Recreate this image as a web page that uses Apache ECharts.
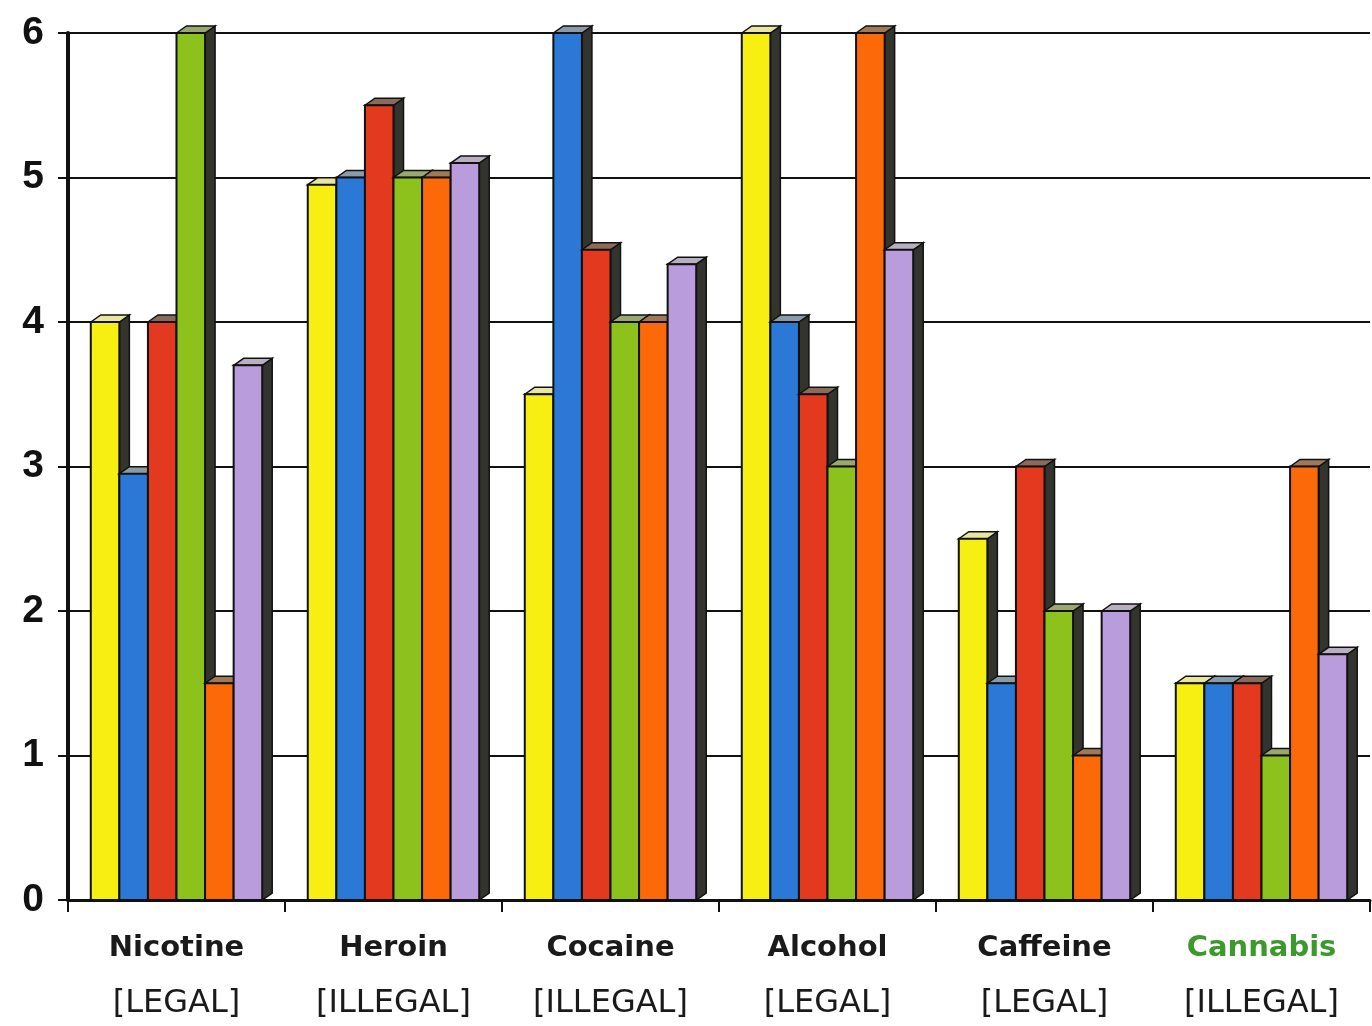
<!DOCTYPE html>
<html><head><meta charset="utf-8">
<script src="https://cdn.jsdelivr.net/npm/echarts@6/dist/echarts.min.js"></script>
<style>html,body{margin:0;padding:0;background:#fff}#c{width:1372px;height:1026px}</style>
</head><body><div id="c"></div>
<script>
const categories = ['Nicotine','Heroin','Cocaine','Alcohol','Caffeine','Cannabis'];
const legality = ['[LEGAL]','[ILLEGAL]','[ILLEGAL]','[LEGAL]','[LEGAL]','[ILLEGAL]'];
const seriesYellow = [4, 4.95, 3.5, 6, 2.5, 1.5];
const seriesBlue   = [2.95, 5, 6, 4, 1.5, 1.5];
const seriesRed    = [4, 5.5, 4.5, 3.5, 3, 1.5];
const seriesGreen  = [6, 5, 4, 3, 2, 1];
const seriesOrange = [1.5, 5, 4, 6, 1, 3];
const seriesPurple = [3.7, 5.1, 4.4, 4.5, 2, 1.7];
const yTicks = [0,1,2,3,4,5,6];

const colors = ['#f7ee12','#2b78d6','#e2391f','#8dc21c','#fc6908','#b99cdc'];
const topColors = ['#e8e6a0','#8a9aa8','#8a6a5a','#9aa870','#a07a58','#b8b0c0'];
const allSeries = [seriesYellow, seriesBlue, seriesRed, seriesGreen, seriesOrange, seriesPurple];
const N = allSeries.length;

function makeRender(si) {
  return function (params, api) {
    const ci = api.value(0), v = api.value(1);
    const base = api.coord([ci, 0]);
    const top = api.coord([ci, v]);
    const band = api.size([1, 0])[0];
    const groupW = band * 0.79;
    const bw = groupW / N;
    const x0 = base[0] - groupW / 2 + si * bw;
    const x1 = x0 + bw;
    const d = 10, dy = 7;
    const ty = top[1], by = base[1];
    return {
      type: 'group',
      children: [
        {type: 'polygon', shape: {points: [[x1, ty], [x1 + d, ty - dy], [x1 + d, by - dy], [x1, by]]},
          style: {fill: '#34342e', stroke: '#111', lineWidth: 1.5}},
        {type: 'polygon', shape: {points: [[x0, ty], [x0 + d, ty - dy], [x1 + d, ty - dy], [x1, ty]]},
          style: {fill: topColors[si], stroke: '#111', lineWidth: 1.5}},
        {type: 'rect', shape: {x: x0, y: ty, width: bw, height: by - ty},
          style: {fill: colors[si], stroke: '#111', lineWidth: 2}}
      ]
    };
  };
}

const chart = echarts.init(document.getElementById('c'));
chart.setOption({
  animation: false,
  backgroundColor: '#fff',
  grid: {left: 68, right: 2, top: 33, bottom: 126},
  xAxis: {
    type: 'category',
    data: categories,
    axisLine: {lineStyle: {color: '#111', width: 3}},
    axisTick: {show: true, length: 12, lineStyle: {color: '#111', width: 2}},
    axisLabel: {
      margin: 20,
      formatter: function (v, i) {
        const style = v === 'Cannabis' ? 'g' : 'n';
        return '{' + style + '|' + v + '}\n{b|' + legality[i] + '}';
      },
      rich: {
        n: {fontFamily: 'DejaVu Sans', fontWeight: 'bold', fontSize: 29, color: '#1a1a1a', lineHeight: 56},
        g: {fontFamily: 'DejaVu Sans', fontWeight: 'bold', fontSize: 29, color: '#3c9a2c', lineHeight: 56},
        b: {fontFamily: 'DejaVu Sans', fontSize: 32, color: '#1a1a1a', lineHeight: 56}
      }
    },
    splitLine: {show: false}
  },
  yAxis: {
    type: 'value',
    min: 0, max: 6, interval: 1,
    axisLine: {show: true, lineStyle: {color: '#111', width: 4}},
    axisTick: {show: true, length: 10, lineStyle: {color: '#111', width: 2}},
    axisLabel: {
      margin: 24,
      fontFamily: 'Liberation Sans, Arial', fontWeight: 'bold', fontSize: 39, color: '#111',
      formatter: function (v) { return yTicks.indexOf(v) >= 0 ? String(v) : ''; }
    },
    splitLine: {show: true, lineStyle: {color: '#111', width: 2}}
  },
  series: allSeries.map(function (d, i) {
    return {
      type: 'custom',
      clip: false,
      renderItem: makeRender(i),
      encode: {x: 0, y: 1},
      data: d.map(function (v, ci) { return [ci, v]; })
    };
  })
});
</script></body></html>
